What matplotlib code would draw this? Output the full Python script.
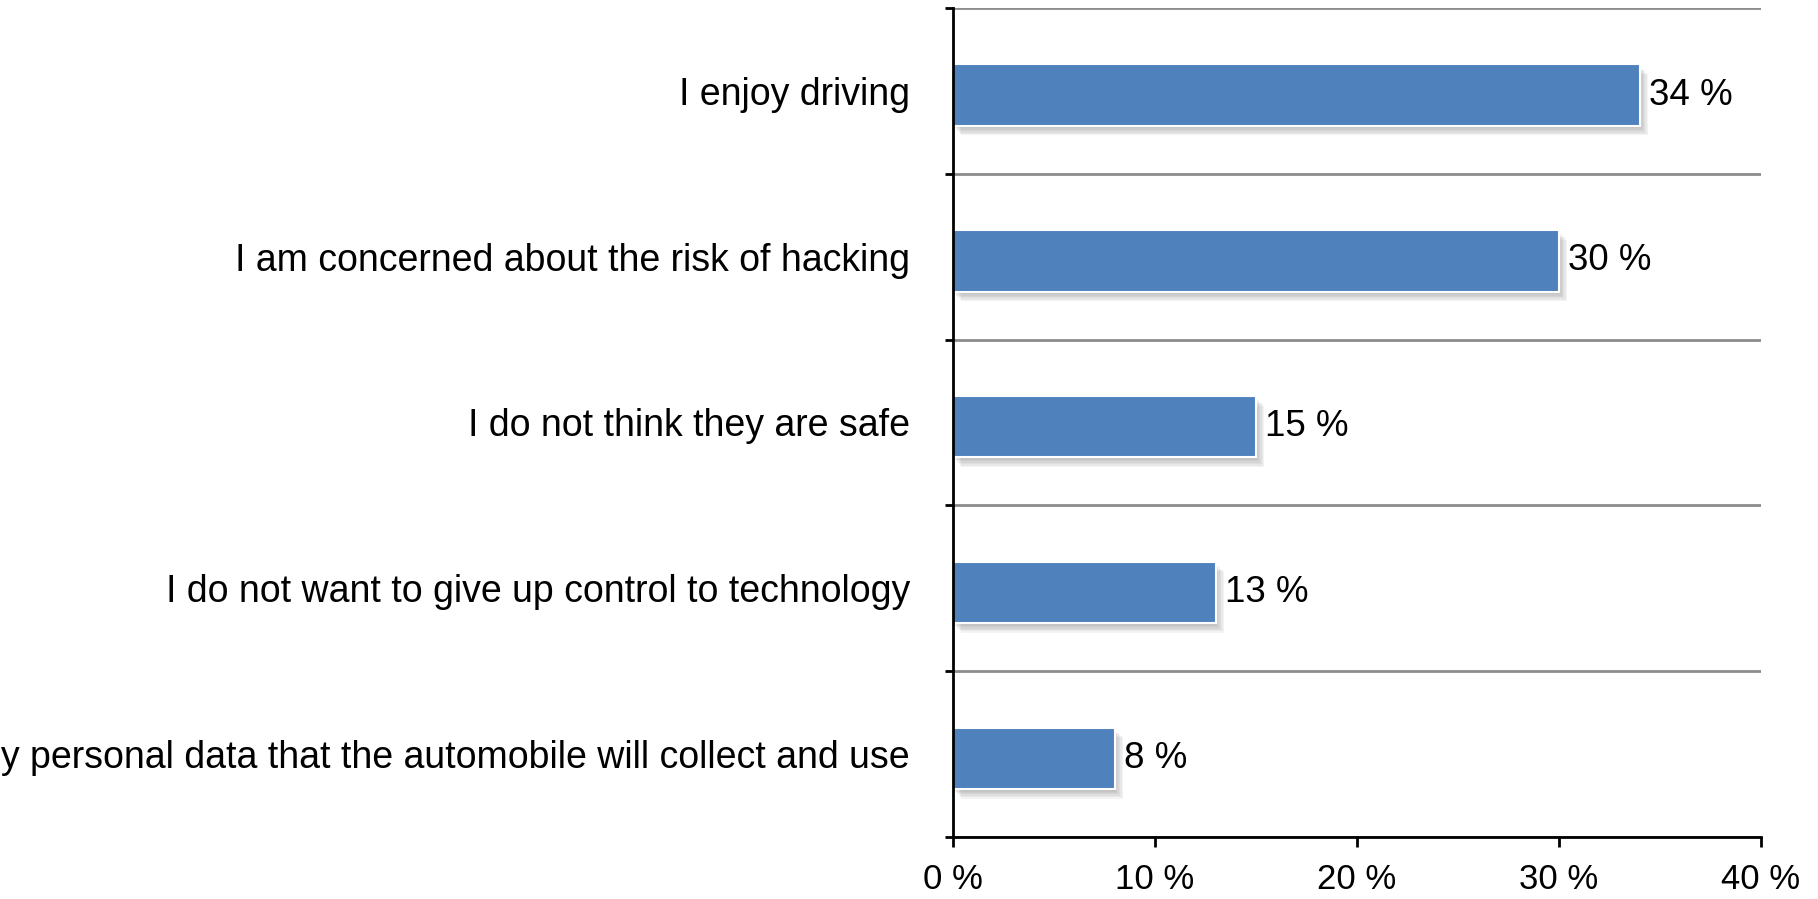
import matplotlib
matplotlib.use("Agg")
import matplotlib.pyplot as plt
import matplotlib.patheffects as pe
import numpy as np

categories = [
    "I enjoy driving",
    "I am concerned about the risk of hacking",
    "I do not think they are safe",
    "I do not want to give up control to technology",
    "I am worried about my personal data that the automobile will collect and use",
]
values = [34, 30, 15, 13, 8]
xticks = [0, 10, 20, 30, 40]
xtick_labels = ["0 %", "10 %", "20 %", "30 %", "40 %"]

plt.rcParams["font.family"] = ["Liberation Sans", "DejaVu Sans"]

fig = plt.figure(figsize=(18.18, 8.99), dpi=100)
ax = fig.add_axes([0.5242, 0.0690, 0.4444, 0.9221])

y = np.arange(len(categories))
bar_y = y + 0.025  # bars sit a touch below the row centre
bars = ax.barh(bar_y, values, height=0.37, color="#4F81BD", edgecolor="white",
               linewidth=1.5, zorder=3)

# soft drop shadow built from a few translucent offset layers
shadow_layers = [
    pe.SimplePatchShadow(offset=(1 + k, -(2 + k)), shadow_rgbFace="#606060", alpha=0.07)
    for k in range(6)
]
for b in bars:
    b.set_path_effects(shadow_layers + [pe.Normal()])

for yi, v in zip(bar_y, values):
    ax.text(v + 0.45, yi, f"{v} %", va="center", ha="left", fontsize=26.5, color="black")

ax.set_xlim(0, 40)
ax.set_ylim(len(categories) - 0.5, -0.5)

ax.set_xticks(xticks)
ax.set_xticklabels(xtick_labels, fontsize=25)
ax.set_yticks(y)
ax.set_yticklabels(categories, fontsize=27)
ax.set_yticks(np.arange(-0.5, len(categories)), minor=True)

ax.tick_params(axis="y", which="major", length=0, pad=31)
ax.tick_params(axis="y", which="minor", length=6, width=2, direction="out", color="black")
ax.tick_params(axis="x", which="major", length=7, width=2, direction="out", pad=12)

ax.grid(axis="y", which="minor", color="#8c8c8c", linewidth=2, zorder=1)
ax.grid(axis="y", which="major", visible=False)

for s in ["top", "right"]:
    ax.spines[s].set_visible(False)
for s in ["left", "bottom"]:
    ax.spines[s].set_linewidth(2)
    ax.spines[s].set_color("black")
    ax.spines[s].set_zorder(4)

fig.savefig("out.png", dpi=100)
